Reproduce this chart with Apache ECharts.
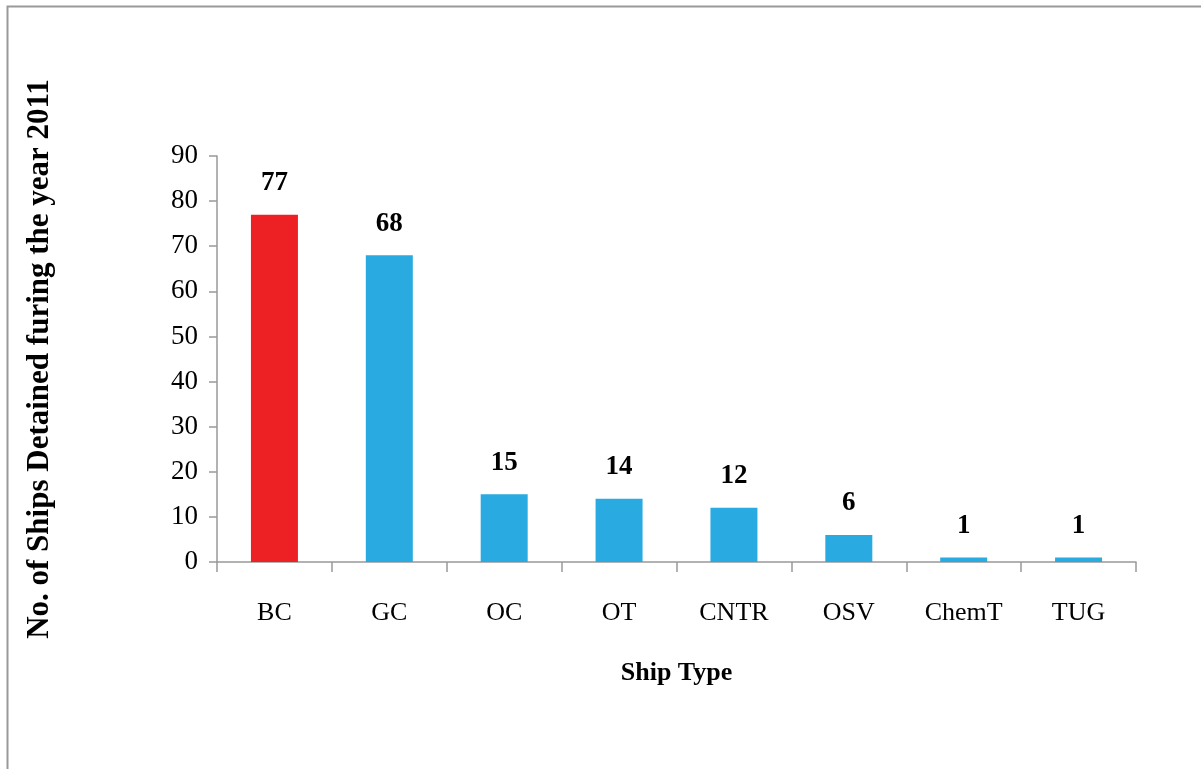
<!DOCTYPE html>
<html>
<head>
<meta charset="utf-8">
<script src="https://cdn.jsdelivr.net/npm/echarts@6/dist/echarts.min.js"></script>
<style>
html,body{margin:0;padding:0;background:#fff;}
#chart{width:1201px;height:769px;}
</style>
</head>
<body>
<div id="chart"></div>
<script>
const categories = ['BC','GC','OC','OT','CNTR','OSV','ChemT','TUG'];
const values = [77,68,15,14,12,6,1,1];
const barColors = ['#ED2024','#29ABE2','#29ABE2','#29ABE2','#29ABE2','#29ABE2','#29ABE2','#29ABE2'];
const yTicks = {min:0,max:90,interval:10};

const chart = echarts.init(document.getElementById('chart'), null, {renderer:'canvas'});
const serif = '"Liberation Serif","Times New Roman",serif';
chart.setOption({
  animation:false,
  backgroundColor:'#fff',
  graphic:[{
    type:'rect', left:5, top:4, silent:true,
    shape:{x:0,y:0,width:1400,height:1000},
    style:{fill:'none',stroke:'#999',lineWidth:2}
  }],
  grid:{left:217,right:65,top:156,bottom:207,containLabel:false},
  xAxis:{
    type:'category',
    data:categories,
    name:'Ship Type',
    nameLocation:'middle',
    nameGap:98,
    nameTextStyle:{fontFamily:serif,fontWeight:'bold',fontSize:26,color:'#000'},
    axisLine:{lineStyle:{color:'#999',width:1.5}},
    axisTick:{show:true,inside:false,length:10,alignWithLabel:false,lineStyle:{color:'#999',width:1.5}},
    axisLabel:{fontFamily:serif,fontSize:26,color:'#000',margin:38}
  },
  yAxis:{
    type:'value',
    min:yTicks.min,max:yTicks.max,interval:yTicks.interval,
    name:'No. of Ships Detained furing the year 2011',
    nameLocation:'middle',
    nameRotate:90,
    nameGap:162,
    nameTextStyle:{fontFamily:serif,fontWeight:'bold',fontSize:31,color:'#000'},
    axisLine:{show:true,lineStyle:{color:'#999',width:1.5}},
    axisTick:{show:true,inside:false,length:8,lineStyle:{color:'#999',width:1.5}},
    splitLine:{show:false},
    axisLabel:{fontFamily:serif,fontSize:27,color:'#000',margin:19}
  },
  series:[{
    type:'bar',
    data:values.map((v,i)=>({value:v,itemStyle:{color:barColors[i]}})),
    barWidth:47,
    label:{show:true,position:'top',distance:18,fontFamily:serif,fontWeight:'bold',fontSize:27,color:'#000'}
  }]
});
</script>
</body>
</html>
